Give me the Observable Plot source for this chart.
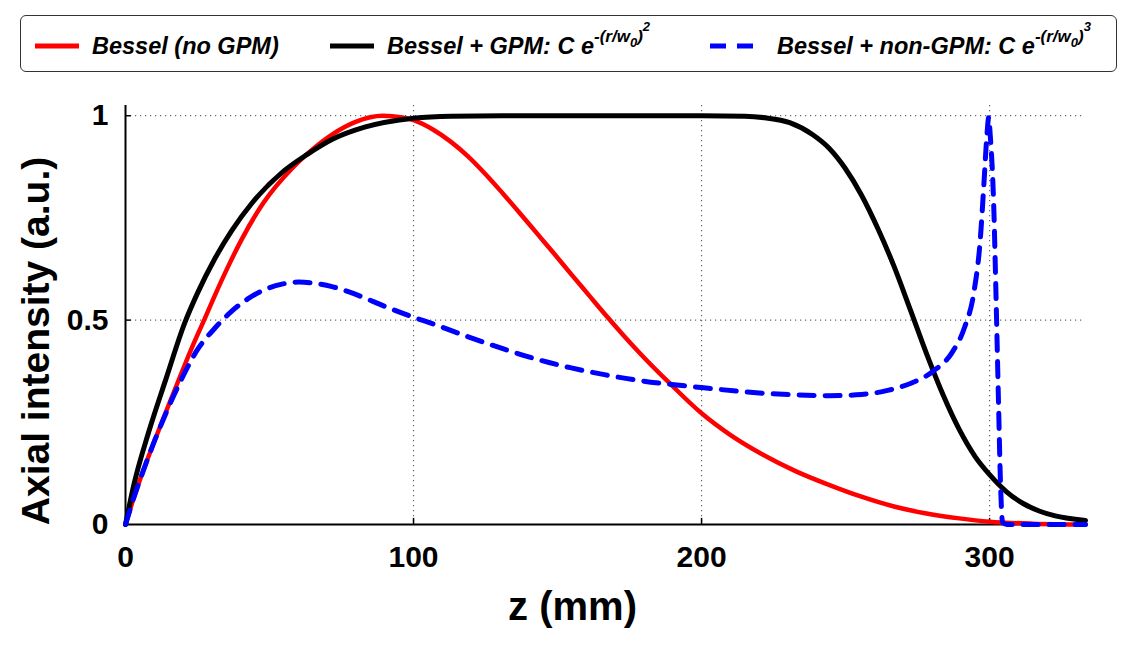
<!DOCTYPE html>
<html>
<head>
<meta charset="utf-8">
<script src="https://cdn.jsdelivr.net/npm/d3@7"></script>
<script src="https://cdn.jsdelivr.net/npm/@observablehq/plot@0.6"></script>
<style>
  html, body { margin: 0; padding: 0; background: white; }
  #page { position: relative; width: 1146px; height: 652px; overflow: hidden; }
  #legend { position: relative; width: 1146px; height: 80px; }
  #legend .box { position: absolute; left: 20px; top: 15px; width: 1095px; height: 55px;
    border: 1.5px solid #333; border-radius: 6px; box-sizing: content-box; }
  #legend .sw { position: absolute; top: 41px; }
  #legend .lab { position: absolute; top: 35px; font-family: "Liberation Sans", Arial, sans-serif;
    font-weight: bold; font-style: italic; font-size: 23.5px; line-height: 23.5px; white-space: nowrap; color: #000; }
  .sup { font-size: 17px; position: relative; top: -12px; }
  .sub { font-size: 13px; position: relative; top: 5px; }
  .sup2 { font-size: 13px; position: relative; top: -11px; }
  #chart { position: absolute; left: 0; top: 80px; }
</style>
</head>
<body>
<div id="page">
  <div id="legend"></div>
  <div id="chart"></div>
</div>
<script>
// ---- Data ----
const seriesNames = ["Bessel (no GPM)", "Bessel + GPM", "Bessel + non-GPM"];

// Bessel (no GPM) – red
const redZ = [0, 3.1, 6.6, 10.1, 13.6, 19.4, 23.5, 27.6, 31.0, 35.7, 40.3, 47.9, 57.8, 63.0, 71.7, 79.9, 89.2, 96.2, 100,
  107, 113, 119, 125, 131, 137, 143, 149, 155, 161, 167, 173, 179, 189, 200,
  210.2, 221.5, 232.8, 244.2, 255.5, 266.8, 278.1, 289.5, 300, 315, 333.3];
const redI = [0, 0.07, 0.14, 0.205, 0.268, 0.37, 0.44, 0.505, 0.56, 0.632, 0.697, 0.787, 0.871, 0.906, 0.954, 0.985, 1.0, 0.996, 0.989,
  0.965, 0.936, 0.900, 0.857, 0.810, 0.761, 0.711, 0.661, 0.610, 0.560, 0.510, 0.462, 0.416, 0.345, 0.272,
  0.218, 0.170, 0.130, 0.097, 0.068, 0.044, 0.027, 0.015, 0.007, 0.002, 0];

// Bessel + GPM – black
const blackZ = [0, 3, 8, 14, 20.5, 25, 31, 37, 44, 55, 63, 72, 83, 100, 113, 131, 150, 180, 200,
  215, 222, 230.6, 238.5, 244.2, 249.8, 255.5, 261.2, 266.8, 272.5, 278.1, 283.8, 289.5, 295.1, 300,
  305.9, 311.5, 317.2, 322.8, 331.9, 333.3];
const blackI = [0, 0.10, 0.225, 0.355, 0.492, 0.566, 0.65, 0.72, 0.787, 0.865, 0.905, 0.943, 0.972, 0.994, 0.999, 1.0, 1.0, 1.0, 1.0,
  0.999, 0.995, 0.983, 0.954, 0.921, 0.872, 0.806, 0.724, 0.632, 0.525, 0.418, 0.318, 0.232, 0.165, 0.122,
  0.080, 0.052, 0.033, 0.021, 0.011, 0.010];

// Bessel + non-GPM – blue dashed
const blueZ = [0, 3.1, 6.6, 10.1, 13.6, 19.4, 25.2, 31.0, 36.9, 42.7, 48.5, 54.3, 60.1, 65.9, 71.7, 77.6, 83.4, 89.2, 100,
  107.1, 119.0, 131.0, 142.9, 154.8, 166.7, 178.6, 190.5, 200,
  215.9, 232.8, 244.2, 255.5, 264.6, 272.5, 280.4, 286.9, 291.2, 294.6, 296.8, 298.0, 299.1, 299.7,
  300.2, 301.4, 302.3, 303.1, 303.8, 304.5, 306, 333.3];
const blueI = [0, 0.07, 0.14, 0.205, 0.265, 0.355, 0.43, 0.48, 0.522, 0.553, 0.575, 0.588, 0.593, 0.59, 0.582, 0.569, 0.553, 0.536, 0.507,
  0.490, 0.459, 0.430, 0.404, 0.383, 0.366, 0.352, 0.342, 0.335,
  0.324, 0.317, 0.315, 0.318, 0.328, 0.345, 0.375, 0.420, 0.480, 0.570, 0.700, 0.830, 0.955, 0.996,
  0.955, 0.788, 0.539, 0.298, 0.098, 0.006, 0, 0];

const xTicks = [0, 100, 200, 300];
const yTicks = [0, 0.5, 1];
const xGridTicks = [100, 200, 300];
const yGridTicks = [0.5, 1];

// ---- Build tables ----
const toRows = (zs, is) => zs.map((z, k) => ({z, I: is[k]}));
const red = toRows(redZ, redI);
const black = toRows(blackZ, blackI);
const blue = toRows(blueZ, blueI);

// ---- Legend ----
const legend = document.getElementById("legend");
legend.innerHTML = `
  <div class="box"></div>
  <svg class="sw" style="left:35px" width="44" height="10"><line x1="0" x2="44" y1="5" y2="5" stroke="#ff0000" stroke-width="5"/></svg>
  <div class="lab" style="left:92px">${seriesNames[0]}</div>
  <svg class="sw" style="left:330px" width="44" height="10"><line x1="0" x2="44" y1="5" y2="5" stroke="#000" stroke-width="5"/></svg>
  <div class="lab" style="left:387px">${seriesNames[1]}: C e<span class="sup">-(r/w<span class="sub">0</span>)<span class="sup2">2</span></span></div>
  <svg class="sw" style="left:710px" width="44" height="10"><line x1="0" x2="44" y1="5" y2="5" stroke="#0000ff" stroke-width="5" stroke-dasharray="16,11"/></svg>
  <div class="lab" style="left:777px">${seriesNames[2]}: C e<span class="sup">-(r/w<span class="sub">0</span>)<span class="sup2">3</span></span></div>
`;

// ---- Chart ----
const gridStyle = {stroke: "#666", strokeOpacity: 1, strokeWidth: 1.2, strokeDasharray: "1.2,3.8"};
const chart = Plot.plot({
  width: 1146,
  height: 572,
  marginLeft: 125,
  marginRight: 61,
  marginTop: 25,
  marginBottom: 128,
  x: {domain: [0, 333.3]},
  y: {domain: [0, 1.025]},
  style: {fontFamily: "'Liberation Sans', Arial, sans-serif", fontWeight: "bold", background: "white", color: "black"},
  marks: [
    Plot.gridX(xGridTicks, gridStyle),
    Plot.gridY(yGridTicks, gridStyle),
    Plot.ruleY([0], {stroke: "#000", strokeWidth: 2}),
    Plot.ruleX([0], {stroke: "#000", strokeWidth: 2}),
    Plot.ruleX(xTicks.slice(1), {y1: 0, y2: 0.015, stroke: "#000", strokeWidth: 1.5}),
    Plot.ruleY(yTicks.slice(1), {x1: 0, x2: 2, stroke: "#000", strokeWidth: 1.5}),
    Plot.line(red, {x: "z", y: "I", stroke: "#ff0000", strokeWidth: 4.5, curve: "monotone-x"}),
    Plot.line(black, {x: "z", y: "I", stroke: "#000000", strokeWidth: 5, curve: "monotone-x"}),
    Plot.line(blue, {x: "z", y: "I", stroke: "#0000ff", strokeWidth: 5, strokeDasharray: "15,11", curve: "monotone-x"}),
    Plot.axisX({ticks: xTicks, tickSize: 0, tickPadding: 21, fontSize: 30, tickFormat: d => String(d), label: null}),
    Plot.axisY({ticks: yTicks, tickSize: 0, tickPadding: 17, fontSize: 30, tickFormat: d => String(d), label: null}),
    Plot.text(["z (mm)"], {text: d => d, frameAnchor: "bottom", textAnchor: "middle", lineAnchor: "middle", dx: -33, dy: 83, fontSize: 40, fontWeight: "bold"}),
    Plot.text(["Axial intensity (a.u.)"], {text: d => d, frameAnchor: "left", textAnchor: "middle", lineAnchor: "middle", rotate: -90, dx: -89, dy: 26, fontSize: 39, fontWeight: "bold"})
  ]
});
document.getElementById("chart").appendChild(chart);
</script>
</body>
</html>
